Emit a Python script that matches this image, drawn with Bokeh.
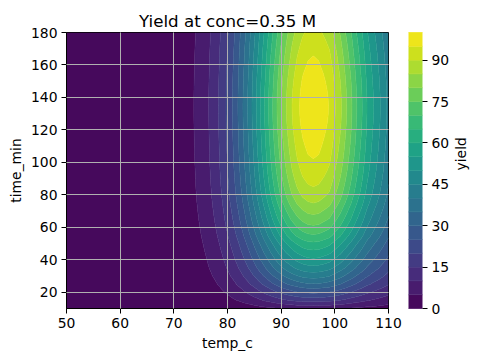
import math
import numpy as np
from bokeh.plotting import figure
from bokeh.models import Range1d, FixedTicker, LinearAxis
from bokeh.palettes import Viridis256
from bokeh.embed import file_html
from bokeh.resources import INLINE

# ---- data ----
# temperature axis (deg C) and relative yield factor along temperature (1.0 at the optimum)
temps = [50, 52, 54, 56, 58, 60, 62, 64, 66, 68, 69,
         70, 71, 72, 73, 74, 75, 76, 77, 78, 79, 80, 81, 82, 83, 84, 85, 86, 87, 88, 89,
         90, 91, 92, 93, 94, 95, 96, 97, 98, 99, 100, 101, 102, 103, 104, 105, 106, 107,
         108, 109, 110]
temp_factor = [0.00001, 0.00001, 0.00002, 0.0001, 0.0002, 0.0004, 0.0009, 0.002, 0.0044, 0.0088, 0.0123,
               0.017, 0.023, 0.031, 0.041, 0.054, 0.070, 0.089, 0.113, 0.141, 0.174, 0.213, 0.257,
               0.306, 0.360, 0.419, 0.482, 0.547, 0.613, 0.680, 0.744,
               0.805, 0.860, 0.908, 0.947, 0.976, 0.994, 1.0, 0.994, 0.976, 0.956, 0.913, 0.870,
               0.819, 0.768, 0.712, 0.662, 0.606, 0.564, 0.524, 0.484, 0.442]
# time axis (min) and yield (%) at the optimum temperature
times = [10, 15, 20, 25, 30, 35, 40, 45, 50, 55, 60, 65, 70, 75, 80, 85, 90, 95,
         100, 105, 110, 115, 120, 125, 130, 135, 140, 145, 150, 155, 160, 165, 170, 175, 180]
yield_at_opt = [6, 17, 26, 34.5, 42, 48.5, 54, 59, 64, 69.5, 74, 78, 81.5, 85, 88, 90, 91.8, 93.3,
                94.5, 95.6, 96.5, 97.3, 98, 98.6, 98.9, 99, 98.8, 98.4, 97.8, 97, 96, 95.1, 94,
                92.8, 91.5]

levels = list(range(0, 101, 5))
x_ticks = [50, 60, 70, 80, 90, 100, 110]
y_ticks = [20, 40, 60, 80, 100, 120, 140, 160, 180]
cbar_ticks = [0, 15, 30, 45, 60, 75, 90]
title_text = "Yield at conc=0.35 M"
x_label = "temp_c"
y_label = "time_min"
cbar_label = "yield"

FONT = "DejaVu Sans"
FS = "13.9px"
TXT = "black"

Z = np.outer(np.array(yield_at_opt, dtype=float), np.array(temp_factor, dtype=float))
n_bands = len(levels) - 1
colors = [Viridis256[int((i + 0.5) / n_bands * 256)] for i in range(n_bands)]
# boundary lines painted in the colour of the band above, to hide anti-aliasing seams
line_colors = [colors[min(k, n_bands - 1)] for k in range(len(levels))]

p = figure(output_backend="svg", toolbar_location=None,
           x_range=Range1d(temps[0], temps[-1]), y_range=Range1d(times[0], times[-1]),
           min_border_left=66, min_border_right=88, min_border_top=32, min_border_bottom=52,
           frame_width=322, frame_height=276)

cr = p.contour(np.array(temps, dtype=float), np.array(times, dtype=float), Z, levels,
               fill_color=colors, line_color=line_colors, line_width=0.7)

p.title.text = title_text
p.title.align = "center"
p.title.text_font = FONT
p.title.text_font_size = "16.7px"
p.title.text_font_style = "normal"
p.title.text_color = TXT
p.title.standoff = 4

for ax, ticks, lab in ((p.xaxis[0], x_ticks, x_label), (p.yaxis[0], y_ticks, y_label)):
    ax.ticker = FixedTicker(ticks=ticks)
    ax.axis_label = lab
    ax.axis_label_text_font = FONT
    ax.axis_label_text_font_size = FS
    ax.axis_label_text_font_style = "normal"
    ax.axis_label_text_color = TXT
    ax.major_label_text_font = FONT
    ax.major_label_text_font_size = FS
    ax.major_label_text_color = TXT
    ax.major_tick_out = 5
    ax.major_tick_in = 0
    ax.minor_tick_out = 0
    ax.minor_tick_in = 0
    ax.major_tick_line_color = "black"
    ax.major_label_standoff = 4
    ax.axis_label_standoff = 4
    ax.axis_line_color = "black"

for g in (p.xgrid[0], p.ygrid[0]):
    g.grid_line_color = "#b0b0b0"
    g.grid_line_width = 1
    g.level = "overlay"
p.xgrid[0].ticker = FixedTicker(ticks=x_ticks)
p.ygrid[0].ticker = FixedTicker(ticks=y_ticks)

p.outline_line_color = "black"
p.outline_line_width = 1

cbar = cr.construct_color_bar(width=14, height=276, location=(20, 0),
                              major_label_text_font=FONT, major_label_text_font_size=FS,
                              major_label_text_color=TXT,
                              major_tick_out=5, major_tick_in=0, major_tick_line_color="black",
                              bar_line_color="black", label_standoff=4, padding=0, margin=0,
                              background_fill_alpha=0, border_line_color=None)
cbar.ticker = FixedTicker(ticks=cbar_ticks)
p.add_layout(cbar, "right")

label_axis = LinearAxis(ticker=FixedTicker(ticks=[]), axis_label=cbar_label,
                        axis_label_text_font=FONT, axis_label_text_font_size=FS,
                        axis_label_text_font_style="normal", axis_label_text_color=TXT,
                        axis_label_standoff=8, axis_label_orientation=math.pi / 2,
                        axis_line_color=None, major_tick_out=0, major_tick_in=0,
                        minor_tick_out=0, minor_tick_in=0, major_label_text_font_size="0px")
p.add_layout(label_axis, "right")

open("out.html", "w").write(file_html(p, INLINE))
